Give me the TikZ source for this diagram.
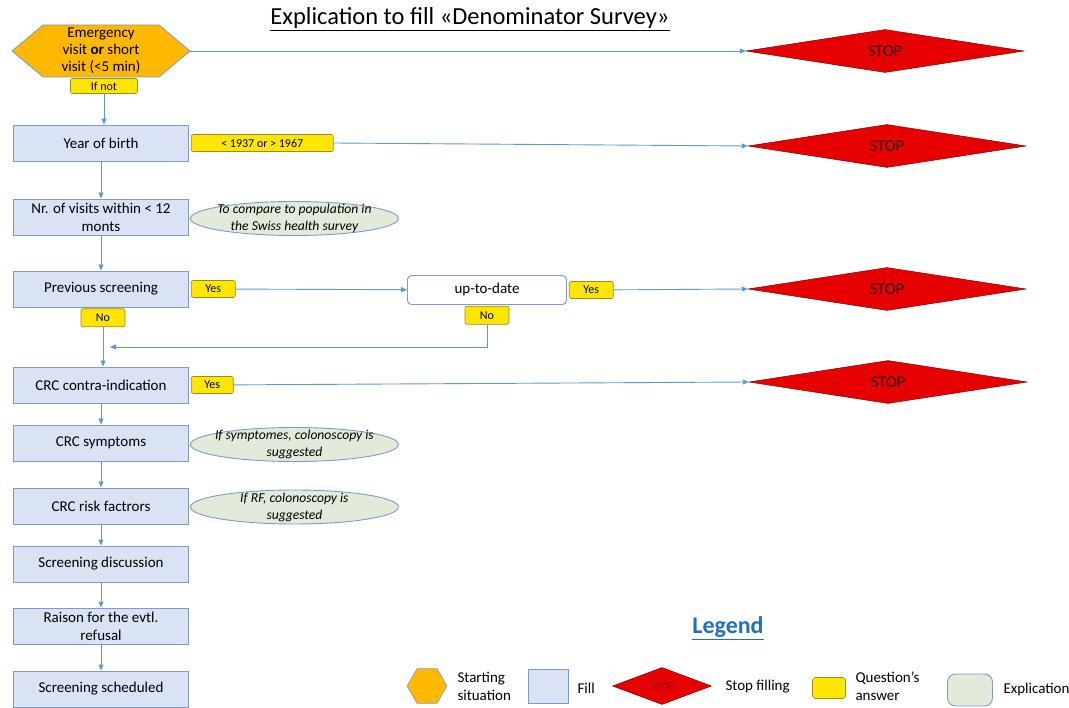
\documentclass[tikz,border=0pt]{standalone}
\usepackage{fontspec}
\setmainfont{Carlito}
\usepackage{tikz}
\usetikzlibrary{
    calc,
    arrows.meta,
    positioning,
    shapes.geometric
}
\definecolor{startorange}{HTML}{FFB800}
\definecolor{fillblue}{HTML}{DAE3F3}
\definecolor{boxline}{HTML}{7F9ACB}
\definecolor{answeryellow}{HTML}{FFE600}
\definecolor{answerline}{HTML}{9C8A1C}
\definecolor{explgreen}{HTML}{E2EBD9}
\definecolor{stopred}{HTML}{E60000}
\definecolor{flowblue}{HTML}{5B9BD5}
\definecolor{legendblue}{HTML}{1F6FC5}
\tikzset{
    % box to be filled in
    fillbox/.style={
        draw=boxline, fill=fillblue, line width=0.9pt,
        minimum width=175pt, minimum height=36pt, inner sep=0pt,
        align=center, font=\fontsize{15}{18}\selectfont
    },
    % yellow tag with the answer
    answer/.style={
        draw=answerline, fill=answeryellow, rounded corners=2pt, line width=0.6pt,
        minimum width=44pt, minimum height=17pt, inner sep=0pt,
        font=\fontsize{12}{14}\selectfont
    },
    % green bubble with an explication
    expl/.style={
        ellipse, draw=boxline, fill=explgreen, line width=0.9pt,
        minimum width=208pt, minimum height=34pt, inner xsep=-20pt, inner ysep=-5pt,
        align=center, font=\fontsize{13.6}{17}\selectfont\itshape
    },
    % red diamond where filling stops
    stopdiamond/.style={
        diamond, aspect=6, draw=stopred!55!black, fill=stopred, line width=0.5pt,
        minimum width=278pt, minimum height=43pt, inner sep=0pt,
        font=\fontsize{16.5}{18}\selectfont, text=black!80!red
    },
    legtext/.style={align=left, font=\fontsize{15}{18}\selectfont},
    flow/.style={draw=flowblue, line width=0.9pt, -{Triangle[length=6pt,width=5pt]}},
    link/.style={draw=flowblue, line width=0.9pt}
}

\begin{document}
\begin{tikzpicture}[x=1pt, y=-1pt]
    \useasboundingbox (0,0) rectangle (1069,708);
    \node[font=\fontsize{24.5}{28}\selectfont] (title) at (470,19) {\underline{Explication to fill «Denominator Survey»}};

    % starting situation
    \coordinate (s) at (101,51);
    \filldraw[draw=boxline, fill=startorange, line width=0.8pt]
        ($(s)+(-89,0)$) -- ($(s)+(-58,-26)$) -- ($(s)+(58,-26)$) -- ($(s)+(89,0)$)
        -- ($(s)+(58,26)$) -- ($(s)+(-58,26)$) -- cycle;
    \node[align=center, minimum width=178pt, minimum height=52pt, inner sep=0pt,
        font=\fontsize{15}{17}\selectfont] (start) at (s) {Emergency\\visit \textbf{or} short\\visit (<5 min)};
    \node[answer, minimum width=67pt, minimum height=15pt] (ifnot) at (104,86) {If not};

    % boxes to fill
    \foreach \n/\y/\t in {
        birth/143/{Year of birth},
        visits/217/{Nr. of visits within < 12\\monts},
        prev/289/{Previous screening},
        contra/385/{CRC contra-indication},
        sympt/443/{CRC symptoms},
        risk/506/{CRC risk factrors},
        discuss/564/{Screening discussion},
        refusal/626/{Raison for the evtl.\\refusal},
        sched/689/{Screening scheduled}} {
        \node[fillbox] (\n) at (101,\y) {\t};
    }
    \node[answer, minimum width=142pt, right=2pt of birth] (years) {< 1937 or > 1967};
    \node[expl, right=1pt of visits, yshift=-1.5pt] (e1) {To compare to population in\\the Swiss health survey};
    \node[answer, right=2pt of prev] (yes1) {Yes};
    \node[answer, minimum height=18pt, below=1pt of prev, xshift=2pt] (no1) {No};
    \node[draw=boxline, fill=white, rounded corners=4pt, line width=0.9pt,
        minimum width=159pt, minimum height=29pt, font=\fontsize{15}{17}\selectfont] (uptodate) at (487,290) {up-to-date};
    \node[answer, right=2pt of uptodate] (yes2) {Yes};
    \node[answer, minimum height=18pt, below=1pt of uptodate] (no2) {No};
    \coordinate (merge) at (110,347);
    \node[answer, minimum width=42pt, right=2pt of contra] (yes3) {Yes};
    \node[expl, right=1pt of sympt, yshift=-1.5pt] (e2) {If symptomes, colonoscopy is\\suggested};
    \node[expl, right=1pt of risk, yshift=-1pt] (e3) {If RF, colonoscopy is\\suggested};

    % stops
    \node[stopdiamond] (stop1) at (885,51) {STOP};
    \node[stopdiamond] (stop2) at (887,146) {STOP};
    \node[stopdiamond] (stop3) at (887,289) {STOP};
    \node[stopdiamond] (stop4) at (888,382) {STOP};

    % connectors
    \draw[flow] (start.east) -- (stop1.west);
    \draw[flow] (ifnot.south) -- (ifnot.south |- birth.north);
    \draw[flow] (years.east) -- (stop2.west);
    \draw[flow] (yes1) -- (uptodate);
    \draw[flow] (yes2) -- (stop3.west);
    \draw[flow] (yes3) -- (stop4.west);
    \draw[flow] (no2.south) |- (merge);
    \draw[flow] (no1.south) -- (no1.south |- contra.north);
    \foreach \a/\b in {birth/visits, visits/prev, contra/sympt, sympt/risk, risk/discuss, discuss/refusal, refusal/sched} {
        \draw[flow] (\a) -- (\b);
    }

    % legend
    \node[font=\fontsize{24}{28}\selectfont\bfseries, text=legendblue] (legend) at (728,628) {\underline{Legend}};
    \node[regular polygon, regular polygon sides=6, minimum size=40pt, inner sep=0pt,
        draw=boxline, fill=startorange, line width=0.6pt] (lstart) at (427,686) {};
    \node[legtext, anchor=west] (tstart) at (454,686) {Starting\\situation};
    \node[fillbox, minimum width=40pt, minimum height=34pt] (lfill) at (548,686) {};
    \node[legtext, anchor=west] (tfill) at (574,688) {Fill};
    \node[stopdiamond, minimum width=99pt, minimum height=37pt, font=\fontsize{11}{12}\selectfont,
        text=black!40!red] (lstop) at (662,686) {STOP};
    \node[legtext, anchor=west] (tstop) at (722,687) {Stop filling};
    \node[answer, minimum width=33pt, minimum height=21pt, rounded corners=3pt] (lanswer) at (829,688) {};
    \node[legtext, anchor=west] (tanswer) at (852,686) {Question’s\\answer};
    \node[draw=boxline, fill=explgreen, rounded corners=8pt, line width=0.9pt,
        minimum width=45pt, minimum height=32pt] (lexpl) at (970,690) {};
    \node[legtext, anchor=west] (texpl) at (1000,689) {Explication};
\end{tikzpicture}
\end{document}
